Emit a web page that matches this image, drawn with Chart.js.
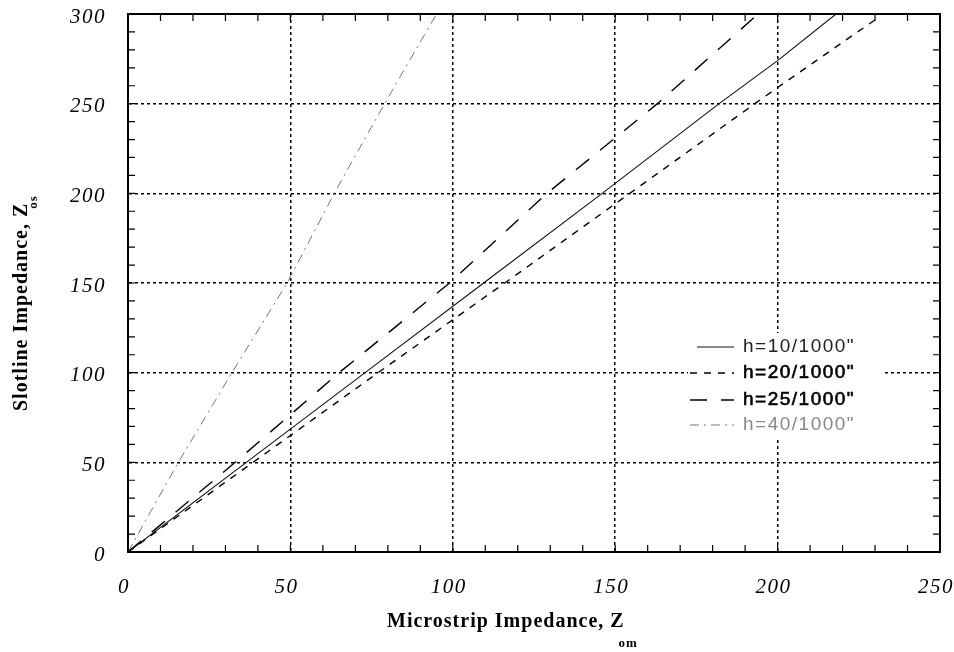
<!DOCTYPE html>
<html>
<head>
<meta charset="utf-8">
<title>Slotline vs Microstrip Impedance</title>
<script src="https://cdn.jsdelivr.net/npm/chart.js@4.4.1/dist/chart.umd.min.js"></script>
<style>
  html, body { margin: 0; padding: 0; background: #fff; }
  #wrap { width: 954px; height: 652px; }
</style>
</head>
<body>
<div id="wrap"><canvas id="chart" width="954" height="652"></canvas></div>
<script>
// Microstrip impedance Zom (x) -> slotline impedance Zos (y), one series per substrate h

const X_TICKS = [0, 50, 100, 150, 200, 250];
const Y_TICKS = [0, 50, 100, 150, 200, 250, 300];

const LABELS = ['h=10/1000"', 'h=20/1000"', 'h=25/1000"', 'h=40/1000"'];

// h = 10/1000"  (trait plein)
const zom10 = [0, 35, 73, 109.5, 146, 182, 200, 218];
const zos10 = [0, 48, 100, 150, 200, 250, 274, 300];

// h = 20/1000"  (tirets courts)
const zom20 = [0, 38.5, 77, 116, 154.5, 193, 200, 231];
const zos20 = [0, 50, 100, 150, 200, 250, 259, 298];

// h = 25/1000"  (tirets longs)
const zom25 = [0, 33, 65, 99, 129, 163, 194];
const zos25 = [0, 50, 100, 150, 200, 250, 300];

// h = 40/1000"  (tiret-point gris)
const zom40 = [0, 15.5, 32, 49, 63.5, 79, 95];
const zos40 = [0, 50, 100, 150, 200, 250, 300];

const SERIF = '"Liberation Serif", "Times New Roman", serif';
const SANS = '"Liberation Sans", Arial, sans-serif';

function toPoints(xs, ys) {
  return xs.map((x, i) => ({ x, y: ys[i] }));
}

const STYLES = [
  { color: '#111', width: 1.1, dash: [], text: '#222', heavy: false },
  { color: '#000', width: 1.4, dash: [7, 7], text: '#000', heavy: true },
  { color: '#000', width: 1.4, dash: [17, 14], text: '#000', heavy: true },
  { color: '#777', width: 1, dash: [9, 5, 2, 5], text: '#888', heavy: false },
];

const SERIES = [
  toPoints(zom10, zos10),
  toPoints(zom20, zos20),
  toPoints(zom25, zos25),
  toPoints(zom40, zos40),
];

// espacement des chiffres des graduations (état du contexte hérité par Chart.js)
const spacingPlugin = {
  id: 'spacing',
  beforeDraw(chart) { chart.ctx.letterSpacing = '1.5px'; },
  beforeDatasetsDraw(chart) { chart.ctx.letterSpacing = '0px'; },
};

// cadre, graduations intérieures, titres d'axes avec indices, légende
const decorPlugin = {
  id: 'decor',
  afterDraw(chart) {
    const { ctx, chartArea: a, scales: { x, y } } = chart;
    ctx.save();

    // cadre
    ctx.strokeStyle = '#000';
    ctx.lineWidth = 2;
    ctx.setLineDash([]);
    ctx.strokeRect(a.left, a.top, a.right - a.left, a.bottom - a.top);

    // petites graduations tous les 10, vers l'intérieur, sur les quatre côtés
    ctx.lineWidth = 1.2;
    const len = 7;
    ctx.beginPath();
    for (let v = 10; v < 250; v += 10) {
      const px = x.getPixelForValue(v);
      ctx.moveTo(px, a.bottom); ctx.lineTo(px, a.bottom - len);
      ctx.moveTo(px, a.top); ctx.lineTo(px, a.top + len);
    }
    for (let v = 10; v < 300; v += 10) {
      const py = y.getPixelForValue(v);
      ctx.moveTo(a.left, py); ctx.lineTo(a.left + len, py);
      ctx.moveTo(a.right, py); ctx.lineTo(a.right - len, py);
    }
    ctx.stroke();

    // titre axe X
    ctx.fillStyle = '#000';
    ctx.textBaseline = 'alphabetic';
    ctx.textAlign = 'left';
    ctx.letterSpacing = '1px';
    ctx.font = 'bold 20px ' + SERIF;
    const xt = 'Microstrip Impedance, Z';
    ctx.fillText(xt, 387, 627);
    const xw = ctx.measureText(xt).width;
    ctx.font = 'bold 13px ' + SERIF;
    ctx.fillText('om', 387 + xw - 6, 647);

    // titre axe Y (vertical)
    ctx.save();
    ctx.translate(27, 411);
    ctx.rotate(-Math.PI / 2);
    ctx.font = 'bold 20px ' + SERIF;
    const yt = 'Slotline Impedance, Z';
    ctx.fillText(yt, 0, 0);
    const yw = ctx.measureText(yt).width;
    ctx.font = 'bold 13px ' + SERIF;
    ctx.fillText('os', yw - 6, 10);
    ctx.restore();

    // légende
    ctx.fillStyle = '#fff';
    ctx.fillRect(688, 333, 196, 104);
    const rows = [347, 373, 400, 425];
    ctx.font = '19px ' + SANS;
    ctx.letterSpacing = '1.5px';
    ctx.textBaseline = 'middle';
    LABELS.forEach((label, i) => {
      const s = STYLES[i];
      ctx.strokeStyle = s.color;
      ctx.lineWidth = s.width;
      ctx.setLineDash(s.dash);
      ctx.beginPath();
      ctx.moveTo(i === 0 ? 697 : 690, rows[i]);
      ctx.lineTo(734, rows[i]);
      ctx.stroke();
      ctx.setLineDash([]);
      ctx.fillStyle = s.text;
      ctx.fillText(label, 743, rows[i]);
      if (s.heavy) {
        ctx.strokeStyle = s.text;
        ctx.lineWidth = 0.6;
        ctx.strokeText(label, 743, rows[i]);
      }
    });

    ctx.restore();
  },
};

new Chart(document.getElementById('chart'), {
  type: 'line',
  data: {
    datasets: SERIES.map((pts, i) => ({
      label: LABELS[i],
      data: pts,
      borderColor: STYLES[i].color,
      borderWidth: STYLES[i].width,
      borderDash: STYLES[i].dash,
      pointRadius: 0,
      tension: 0,
      fill: false,
    })),
  },
  options: {
    responsive: false,
    animation: false,
    devicePixelRatio: 1,
    layout: { padding: { top: 14, right: 14, left: 0, bottom: 0 } },
    plugins: {
      legend: { display: false },
      tooltip: { enabled: false },
    },
    scales: {
      x: {
        type: 'linear',
        min: 0,
        max: 250,
        afterBuildTicks: (s) => { s.ticks = X_TICKS.map((v) => ({ value: v })); },
        afterFit: (s) => { s.height = 100; s.paddingLeft = 0; s.paddingRight = 0; },
        ticks: {
          color: '#000',
          padding: 23,
          labelOffset: -4,
          maxRotation: 0,
          font: { family: SERIF, size: 21, style: 'italic' },
        },
        grid: { color: '#000', lineWidth: 1.5, drawTicks: false },
        border: { display: true, color: '#000', width: 2, dash: [3, 3] },
      },
      y: {
        type: 'linear',
        min: 0,
        max: 300,
        afterBuildTicks: (s) => { s.ticks = Y_TICKS.map((v) => ({ value: v })); },
        afterFit: (s) => { s.width = 128; s.paddingTop = 0; s.paddingBottom = 0; },
        ticks: {
          color: '#000',
          padding: 22,
          labelOffset: 3,
          font: { family: SERIF, size: 21, style: 'italic' },
        },
        grid: { color: '#000', lineWidth: 1.5, drawTicks: false },
        border: { display: true, color: '#000', width: 2, dash: [3, 3] },
      },
    },
  },
  plugins: [spacingPlugin, decorPlugin],
});
</script>
</body>
</html>
